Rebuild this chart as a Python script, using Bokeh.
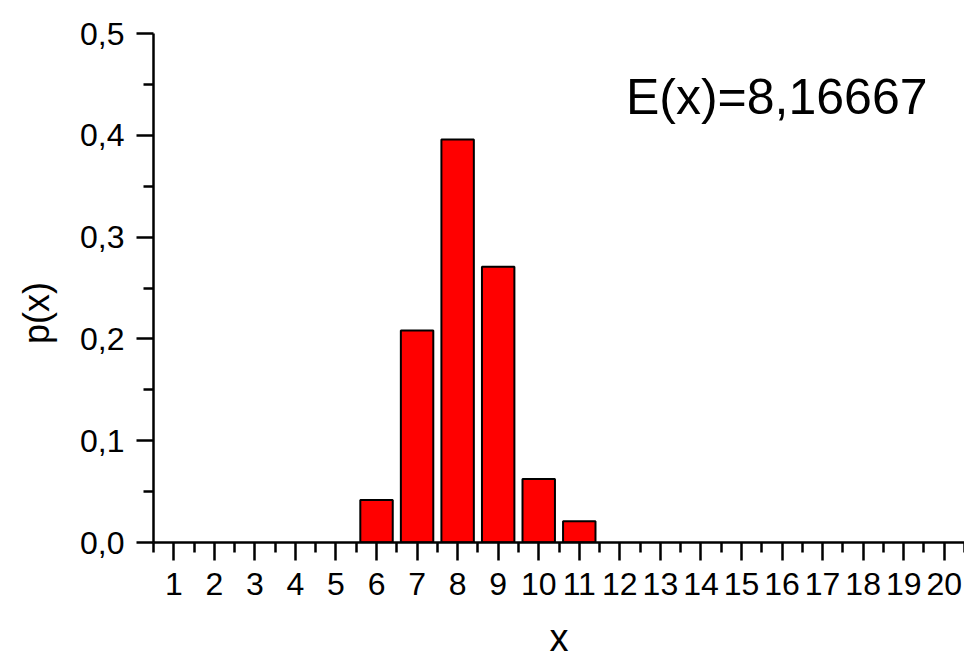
from bokeh.embed import file_html
from bokeh.models import CustomJSTickFormatter, FixedTicker, Label, Range1d
from bokeh.plotting import figure
from bokeh.resources import INLINE

# Distribution of x: values and probabilities (in 48ths)
x_values = [6, 7, 8, 9, 10, 11]
p_values = [2 / 48, 10 / 48, 19 / 48, 13 / 48, 3 / 48, 1 / 48]
expected = sum(x * p for x, p in zip(x_values, p_values))

x_ticks = list(range(1, 21))
x_minor = [t - 0.5 for t in range(1, 22)]
y_ticks = [0.0, 0.1, 0.2, 0.3, 0.4, 0.5]
y_minor = [0.05, 0.15, 0.25, 0.35, 0.45]

FONT = "Liberation Sans"

p = figure(
    width=964, height=661,
    x_range=Range1d(0.5, 20.5), y_range=Range1d(0, 0.5),
    output_backend="svg", toolbar_location=None,
    min_border_left=153, min_border_right=0,
    min_border_top=33, min_border_bottom=118,
)
p.outline_line_color = None
p.xgrid.visible = False
p.ygrid.visible = False
p.background_fill_color = "white"
p.border_fill_color = "white"

p.vbar(x=x_values, top=p_values, width=0.8, bottom=0,
       fill_color="#ff0000", line_color="black", line_width=2)

# x axis
xa = p.xaxis[0]
xa.ticker = FixedTicker(ticks=x_ticks, minor_ticks=x_minor)
xa.axis_line_width = 2.5
xa.major_tick_line_width = 2.5
xa.minor_tick_line_width = 2.5
xa.major_tick_in = 0
xa.major_tick_out = 18
xa.minor_tick_in = 0
xa.minor_tick_out = 10
xa.major_label_text_font = FONT
xa.major_label_text_font_size = "32px"
xa.major_label_text_color = "black"
xa.major_label_standoff = 12
xa.axis_label = "x"
xa.axis_label_text_font = FONT
xa.axis_label_text_font_size = "38px"
xa.axis_label_text_font_style = "normal"
xa.axis_label_text_color = "black"
xa.axis_label_text_baseline = "alphabetic"
xa.axis_label_standoff = 19

# y axis
ya = p.yaxis[0]
ya.ticker = FixedTicker(ticks=y_ticks, minor_ticks=y_minor)
ya.formatter = CustomJSTickFormatter(code="return tick.toFixed(1).replace('.', ',');")
ya.axis_line_width = 2.5
ya.major_tick_line_width = 2.5
ya.minor_tick_line_width = 2.5
ya.major_tick_in = 0
ya.major_tick_out = 17
ya.minor_tick_in = 0
ya.minor_tick_out = 10
ya.major_label_text_font = FONT
ya.major_label_text_font_size = "32px"
ya.major_label_text_color = "black"
ya.major_label_standoff = 12
# trailing no-break spaces nudge the rotated title down a little
ya.axis_label = "p(x)" + "\u00a0" * 5
ya.axis_label_text_font = FONT
ya.axis_label_text_font_size = "36px"
ya.axis_label_text_font_style = "normal"
ya.axis_label_text_color = "black"
ya.axis_label_standoff = 20

# expected value annotation
p.add_layout(Label(
    x=12.15, y=0.438, text="E(x)=" + f"{expected:.5f}".replace(".", ","),
    text_align="left", text_baseline="alphabetic",
    text_font=FONT, text_font_size="50px", text_color="black",
))

open("out.html", "w").write(file_html(p, INLINE))
